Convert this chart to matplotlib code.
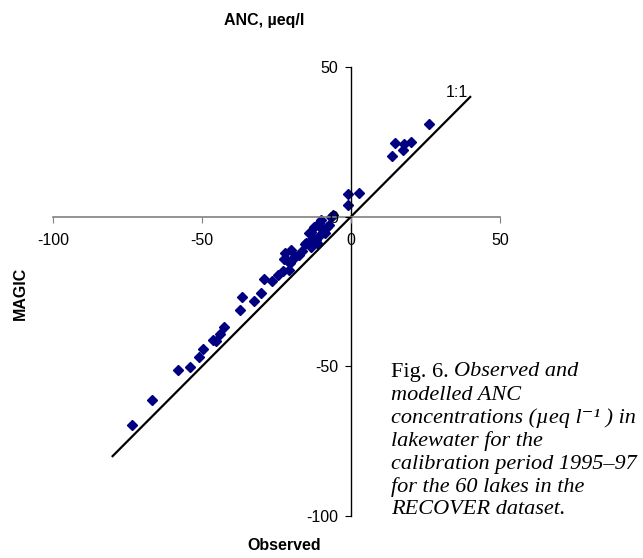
import matplotlib
matplotlib.use("Agg")
import matplotlib.pyplot as plt

plt.rcParams['font.family'] = ['Liberation Sans', 'DejaVu Sans']
plt.rcParams['axes.unicode_minus'] = False

# observed vs MAGIC-modelled ANC (ueq/l)
observed = [-73.6, -66.8, -58.2, -53.9, -51.1, -49.6, -46.4, -45.2, -43.8, -42.7,
            -37.4, -36.5, -32.6, -30.3, -29.2, -26.4, -24.5, -22.7, -20.8, -20.5,
            -22.5, -22.0, -21.4, -20.2, -19.1, -18.8, -17.4, -16.5, -15.5, -15.2,
            -14.1, -14.1, -13.5, -13.5, -12.8, -12.4, -11.8, -11.5, -11.2, -10.7,
            -10.1, -10.1, -9.5, -9.0, -8.8, -8.0, -7.3, -6.7, -6.2, -0.9,
            -0.9, 2.8, 13.7, 14.8, 17.4, 17.8, 20.2, 26.1]
magic = [-69.7, -61.4, -51.3, -50.3, -46.9, -44.2, -41.3, -41.5, -39.3, -36.9,
         -31.2, -26.8, -28.3, -25.5, -20.7, -21.5, -19.5, -18.3, -17.8, -15.5,
         -14.2, -12.2, -14.4, -11.1, -13.9, -13.3, -12.8, -11.5, -9.1, -8.9,
         -8.3, -5.5, -10.0, -5.0, -7.0, -3.3, -7.8, -8.9, -6.7, -2.2,
         -1.1, -3.9, -4.5, -5.0, -5.5, -3.5, -2.8, 0.0, 0.6, 7.6,
         3.9, 7.8, 20.2, 24.5, 22.2, 24.2, 25.0, 31.1]
one_to_one = [-80, 40]

ticks = [-100, -50, 0, 50]

W, H = 643, 558
fig = plt.figure(figsize=(W / 100, H / 100), dpi=100)
ax = fig.add_axes([53 / W, 1 - 516 / H, 447 / W, 449 / H])
ax.set_axisbelow(False)

ax.plot(one_to_one, one_to_one, color='black', lw=1.6, zorder=1.5)
ax.plot(observed, magic, ls='none', marker='D', ms=5.5, color='#000080',
        mec='#000080', zorder=2)
ax.text(35.5, 41.5, '1:1', ha='center', va='center', fontsize=11.5)

ax.set_xlim(-100, 50)
ax.set_ylim(-100, 50)
ax.set_xticks(ticks)
ax.set_yticks(ticks)
ax.spines['left'].set_position('zero')
ax.spines['bottom'].set_position('zero')
ax.spines['top'].set_visible(False)
ax.spines['right'].set_visible(False)
ax.spines['bottom'].set_color('#808080')
ax.spines['bottom'].set_linewidth(1.2)
ax.spines['left'].set_linewidth(1.0)
ax.tick_params(axis='x', direction='out', length=4, colors='#808080',
               labelcolor='black', labelsize=11.5, pad=8)
ax.tick_params(axis='y', direction='out', length=4, labelsize=11.5, pad=5)
ax.patch.set_visible(False)

fig.text(264 / W, 1 - 20 / H, 'ANC, µeq/l', ha='center', va='center',
         fontsize=11.5, fontweight='bold')
fig.text(20 / W, 1 - 293 / H, 'MAGIC', ha='center', va='center', rotation=90,
         fontsize=11.5, fontweight='bold')
fig.text(284 / W, 1 - 546 / H, 'Observed', ha='center', va='center',
         fontsize=11.5, fontweight='bold')

# caption: serif, "Fig. 6." upright, rest italic
serif = ['Liberation Serif', 'DejaVu Serif']
cap_size = 16
cap_lines = ['Observed and', 'modelled ANC', 'concentrations (µeq l⁻¹ ) in',
             'lakewater for the', 'calibration period 1995–97',
             'for the 60 lakes in the', 'RECOVER dataset.']
x0 = 391 / W
y_top = 372
step = 23
fig_lbl = fig.text(x0, 1 - y_top / H, 'Fig. 6. ', ha='left', va='center',
                   fontsize=cap_size, family=serif)
fig.canvas.draw()
bb = fig_lbl.get_window_extent()
fig.text(bb.x1 / W, 1 - y_top / H, cap_lines[0], ha='left', va='center',
         fontsize=cap_size, family=serif, style='italic')
for i, line in enumerate(cap_lines[1:], start=1):
    fig.text(x0, 1 - (y_top + i * step) / H, line, ha='left', va='center',
             fontsize=cap_size, family=serif, style='italic')

fig.savefig('out.png', dpi=100)
